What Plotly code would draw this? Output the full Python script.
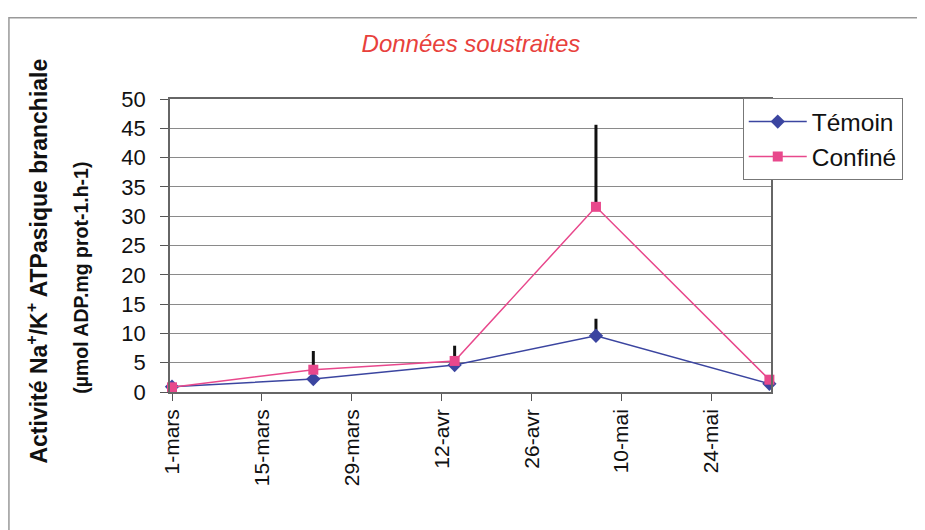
import plotly.graph_objects as go

dates = ["2007-03-01", "2007-03-23", "2007-04-14", "2007-05-06", "2007-06-02"]
temoin = [0.9, 2.2, 4.6, 9.6, 1.4]
temoin_err = [0.7, 0, 0, 2.9, 0]
confine = [0.8, 3.8, 5.3, 31.6, 2.1]
confine_err = [0, 3.2, 2.6, 14.0, 0]

tick_dates = ["2007-03-01", "2007-03-15", "2007-03-29", "2007-04-12",
              "2007-04-26", "2007-05-10", "2007-05-24"]
tick_labels = ["1-mars", "15-mars", "29-mars", "12-avr", "26-avr", "10-mai", "24-mai"]

ytitle_line1 = "Activité Na<sup>+</sup>/K<sup>+</sup> ATPasique branchiale"
ytitle_line2 = "(µmol ADP.mg prot-1.h-1)"

blue = "#3b45a0"
pink = "#e8488c"

fig = go.Figure()
fig.add_trace(go.Scatter(
    x=dates, y=temoin, name="Témoin", mode="lines+markers", cliponaxis=False,
    line=dict(color=blue, width=1.5),
    marker=dict(symbol="diamond", size=11, color=blue),
    error_y=dict(type="data", symmetric=False, array=temoin_err,
                 arrayminus=[0] * len(temoin), color="#111111", thickness=3, width=0),
))
fig.add_trace(go.Scatter(
    x=dates, y=confine, name="Confiné", mode="lines+markers", cliponaxis=False,
    line=dict(color=pink, width=1.5),
    marker=dict(symbol="square", size=10, color=pink),
    error_y=dict(type="data", symmetric=False, array=confine_err,
                 arrayminus=[0] * len(confine), color="#111111", thickness=3, width=0),
))

fig.add_shape(type="rect", xref="paper", yref="paper",
              x0=-0.268, x1=1.4, y0=-0.7, y1=1.277,
              line=dict(color="#999999", width=1.5))

fig.add_annotation(text="<b>" + ytitle_line1 + "</b>", textangle=-90,
                   xref="paper", yref="paper", x=-0.2213, y=0.4486,
                   xanchor="center", yanchor="middle", showarrow=False,
                   font=dict(size=23, color="#111111"))
fig.add_annotation(text="<b>" + ytitle_line2 + "</b>", textangle=-90,
                   xref="paper", yref="paper", x=-0.148, y=0.39,
                   xanchor="center", yanchor="middle", showarrow=False,
                   font=dict(size=19.5, color="#111111"))

fig.update_layout(
    width=925, height=530,
    margin=dict(l=162, r=162, t=91, b=146),
    paper_bgcolor="white", plot_bgcolor="white",
    font=dict(family="Liberation Sans, Arial, sans-serif", color="#111111"),
    title=dict(text="<i>Données soustraites</i>", x=0.5005, xanchor="center",
               xref="container", y=0.932, yanchor="middle",
               font=dict(size=24, color="#e8413c")),
    showlegend=True,
    legend=dict(x=0.953, y=1.003, xanchor="left", yanchor="top",
                bordercolor="#777777", borderwidth=1, bgcolor="white",
                font=dict(size=24.5, color="#111111"),
                itemwidth=58, tracegroupgap=2),
    xaxis=dict(
        type="date",
        range=["2007-02-28 16:30", "2007-06-02 06:00"],
        tickvals=tick_dates, ticktext=tick_labels, tickangle=-90,
        tickfont=dict(size=21, color="#111111"),
        ticks="outside", ticklen=7, tickcolor="#555555",
        showgrid=False, showline=True, linecolor="#666666", linewidth=1.5,
        mirror=True, zeroline=False,
    ),
    yaxis=dict(
        range=[0, 50], tickvals=list(range(0, 51, 5)),
        tickfont=dict(size=22, color="#111111"),
        ticks="outside", ticklen=8, tickcolor="#555555", ticklabelstandoff=10,
        showgrid=True, gridcolor="#8a8a8a", gridwidth=1,
        showline=True, linecolor="#666666", linewidth=1.5, mirror=True,
        zeroline=False,
    ),
)

fig.write_html("out.html")
